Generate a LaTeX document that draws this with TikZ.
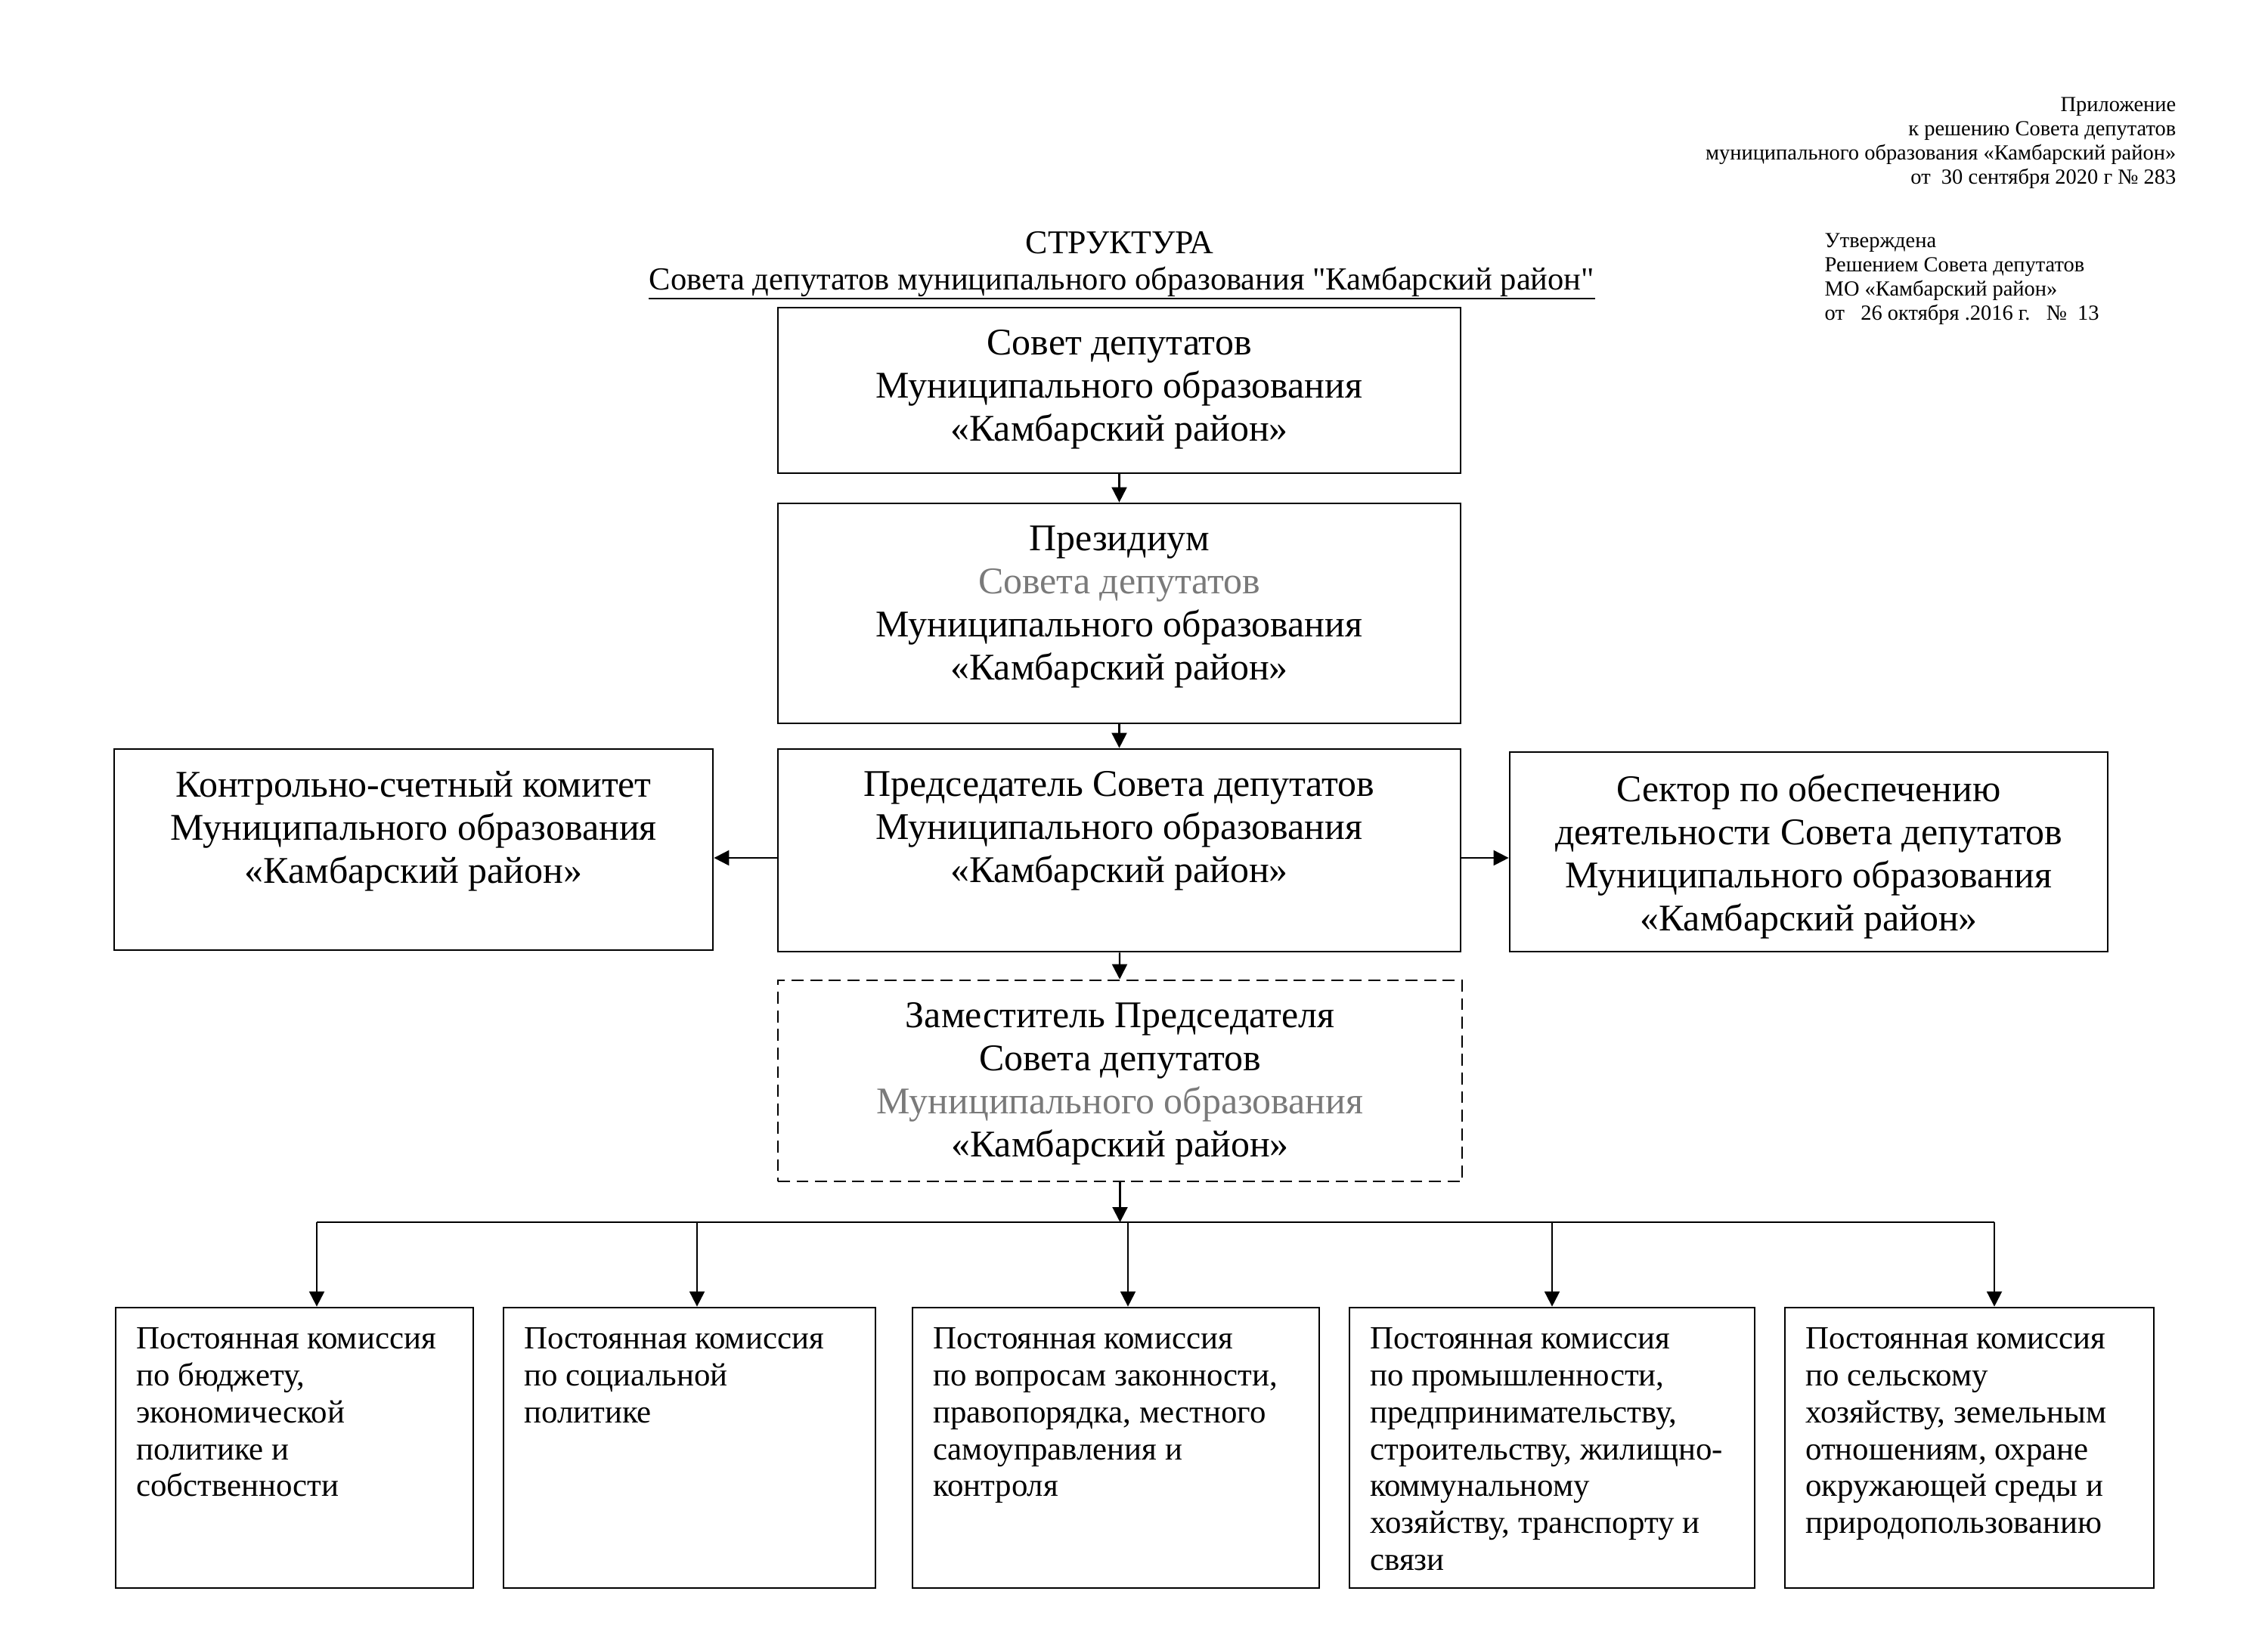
\documentclass[tikz,border=0pt]{standalone}
\usepackage{fontspec}
\setmainfont{Liberation Serif}
\newfontfamily\rawserif{Liberation Serif}
\usepackage{tikz}
\usetikzlibrary{arrows.meta,positioning}
\definecolor{faded}{HTML}{7A7A7A}

\begin{document}
\begin{tikzpicture}[x=1cm,y=-1cm,
    box/.style={draw,line width=0.8pt,inner sep=0pt},
    dbox/.style={box,dash pattern=on 4.5pt off 2.5pt},
    mid/.style={align=center,anchor=north,inner sep=0pt,yshift=-8.6pt,execute at begin node=\strut,font=\fontsize{14.2}{16.2}\selectfont},
    com/.style={align=left,anchor=north west,inner sep=0pt,xshift=0.28cm,yshift=-7.7pt,execute at begin node=\strut,font=\fontsize{12.2}{13.9}\selectfont},
    arr/.style={line width=0.6pt,-{Triangle[length=2mm,width=2mm]}}]
  \useasboundingbox (0,0) rectangle (30,21.82);
  \node[align=right,anchor=base east,inner sep=0pt,font=\fontsize{8.1}{9.07}\selectfont] (appx) at (28.79,2.43)
    {Приложение\\к решению Совета депутатов\\муниципального образования «Камбарский район»\\от\ \ 30 сентября 2020 г № 283};
  \node[align=left,anchor=base west,inner sep=0pt,font=\fontsize{8.1}{9.07}\selectfont] (appr) at (24.13,4.23)
    {Утверждена\\Решением Совета депутатов\\МО «Камбарский район»\\от\ \ \ 26 октября .2016 г.\ \ \ №\ \ 13};
  \node[anchor=base,inner sep=0pt,font=\fontsize{12.5}{14}\selectfont] (title) at (14.81,3.35) {СТРУКТУРА};
  \node[anchor=base,inner sep=0pt,font=\rawserif\fontsize{12.1}{14}\selectfont] (sub) at (14.84,3.83)
    {Совета депутатов муниципального образования "Камбарский район"};
  \draw[line width=0.5pt] ([yshift=-0.5pt]sub.south west) -- ([yshift=-0.5pt]sub.south east);

  \node[box,minimum width=9.03cm,minimum height=2.19cm,
    label={[mid]north:{Совет депутатов\\Муниципального образования\\«Камбарский район»}}] (sovet) at (14.805,5.165) {};
  \node[box,minimum width=9.03cm,minimum height=2.91cm,
    label={[mid]north:{Президиум\\\textcolor{faded}{Совета депутатов}\\Муниципального образования\\«Камбарский район»}}] (prezid) at (14.805,8.115) {};
  \node[box,minimum width=9.03cm,minimum height=2.68cm,
    label={[mid]north:{Председатель Совета депутатов\\Муниципального образования\\«Камбарский район»}}] (predsed) at (14.805,11.25) {};
  \node[box,minimum width=7.92cm,minimum height=2.66cm,
    label={[mid]north:{Контрольно-счетный комитет\\Муниципального образования\\«Камбарский район»}}] (kontrol) at (5.47,11.24) {};
  \node[box,minimum width=7.91cm,minimum height=2.64cm,
    label={[mid]north:{Сектор по обеспечению\\деятельности Совета депутатов\\Муниципального образования\\«Камбарский район»}}] (sektor) at (23.925,11.27) {};
  \node[dbox,minimum width=9.05cm,minimum height=2.66cm,
    label={[mid]north:{Заместитель Председателя\\Совета депутатов\\\textcolor{faded}{Муниципального образования}\\«Камбарский район»}}] (zam) at (14.815,14.30) {};

  \node[box,minimum width=4.73cm,minimum height=3.71cm,
    label={[com]north west:{Постоянная комиссия\\по бюджету,\\экономической\\политике и\\собственности}}] (b1) at (3.895,19.155) {};
  \node[box,minimum width=4.92cm,minimum height=3.71cm,
    label={[com]north west:{Постоянная комиссия\\по социальной\\политике}}] (b2) at (9.12,19.155) {};
  \node[box,minimum width=5.38cm,minimum height=3.71cm,
    label={[com]north west:{Постоянная комиссия\\по вопросам законности,\\правопорядка, местного\\самоуправления и\\контроля}}] (b3) at (14.76,19.155) {};
  \node[box,minimum width=5.36cm,minimum height=3.71cm,
    label={[com]north west:{Постоянная комиссия\\по промышленности,\\предпринимательству,\\строительству, жилищно-\\коммунальному\\хозяйству, транспорту и\\связи}}] (b4) at (20.53,19.155) {};
  \node[box,minimum width=4.88cm,minimum height=3.71cm,
    label={[com]north west:{Постоянная комиссия\\по сельскому\\хозяйству, земельным\\отношениям, охране\\окружающей среды и\\природопользованию}}] (b5) at (26.05,19.155) {};

  \draw[arr] (sovet) -- (prezid);
  \draw[arr] (prezid) -- (predsed);
  \draw[arr] (predsed) -- (zam);
  \draw[arr] ([yshift=-0.1cm]predsed.west) -- ([yshift=-0.1cm]predsed.west -| kontrol.east);
  \draw[arr] ([yshift=-0.1cm]predsed.east) -- ([yshift=-0.1cm]predsed.east -| sektor.west);

  \foreach \i/\x in {1/4.19,2/9.22,3/14.92,4/20.53,5/26.38}
    {\coordinate (k\i) at (\x,16.17);}
  \draw[line width=0.6pt] (k1) -- (k5);
  \draw[arr] (zam) -- (zam |- k1);
  \foreach \i in {1,...,5}
    {\draw[arr] (k\i) -- (k\i |- b\i.north);}
\end{tikzpicture}
\end{document}
